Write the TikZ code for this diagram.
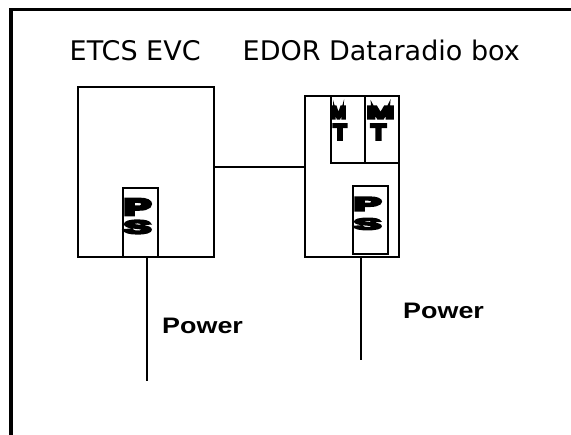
\documentclass[tikz,border=0pt]{standalone}
\usepackage{fontspec}
\usepackage{graphicx}
\setmainfont{DejaVu Sans}
\newfontfamily\titlefont{DejaVu Sans}
\newfontfamily\labelfont{Liberation Sans Bold}
\newfontfamily\heavyfont[FakeBold=12]{Liberation Sans Bold}
\newcommand{\glyphbox}[3]{\resizebox*{#1pt}{#2pt}{\heavyfont #3}}
\tikzset{
  frame/.style={line width=3.5pt},
  box/.style={draw, line width=1.2pt, inner sep=0pt, fill=white},
  link/.style={line width=2pt},
  glyph/.style={inner sep=0pt, outer sep=0pt},
  title/.style={inner sep=0pt, anchor=base west, font=\titlefont\fontsize{27}{30}\selectfont},
  plabel/.style={inner sep=0pt, anchor=base west, xscale=1.2, font=\labelfont\fontsize{22.4}{26}\selectfont}
}
\begin{document}
\begin{tikzpicture}[x=1pt,y=-1pt]
\useasboundingbox (0,0) rectangle (571,435);
\clip (0,0) rectangle (571,435);
\fill[white] (0,0) rectangle (571,435);
% outer frame (extends past the right and bottom edges)
\draw[frame] (11,445) -- (11,9.5) -- (580,9.5);
% titles
\node[title] (t1) at (69.5,61) {ETCS EVC};
\node[title] (t2) at (242.5,61) {EDOR Dataradio box};
% ETCS EVC box
\node[box, minimum width=136, minimum height=170] (evc) at (146,172) {};
\node[box, minimum width=35, minimum height=69] (evcps) at (140.5,222.5) {};
\node[glyph] (evcp) at (137.5,207) {\glyphbox{27}{16}{P}};
\node[glyph] (evcs) at (137.5,227) {\glyphbox{27}{13}{S}};
% EDOR box
\node[box, minimum width=94, minimum height=161] (edor) at (352,176.5) {};
\node[box, minimum width=34, minimum height=67] (mt1) at (348,129.5) {};
\node[box, minimum width=34, minimum height=67] (mt2) at (382,129.5) {};
\node[glyph] (m1) at (338.5,112.5) {\glyphbox{15}{12}{M}};
\node[glyph] (tt1) at (340,132) {\glyphbox{13}{15}{T}};
\node[glyph] (m2) at (380.5,112.5) {\glyphbox{27}{12}{M}};
\node[glyph] (tt2) at (378.5,132) {\glyphbox{15}{15}{T}};
\node[box, minimum width=35, minimum height=68] (edorps) at (370.5,220) {};
\node[glyph] (edorp) at (367.5,204) {\glyphbox{27}{13}{P}};
\node[glyph] (edors) at (367.5,224) {\glyphbox{27}{11}{S}};
% connector between the boxes
\draw[link] (evc.east |- 0,167) -- (edor.west |- 0,167);
% power lines
\coordinate (p1end) at (147,381);
\coordinate (p2end) at (361,360);
\draw[link] (evcps.south -| p1end) -- (p1end);
\draw[link] (edor.south -| p2end) -- (p2end);
\node[plabel] (pw1) at (162,334) {Power};
\node[plabel] (pw2) at (403,319) {Power};
\end{tikzpicture}
\end{document}
